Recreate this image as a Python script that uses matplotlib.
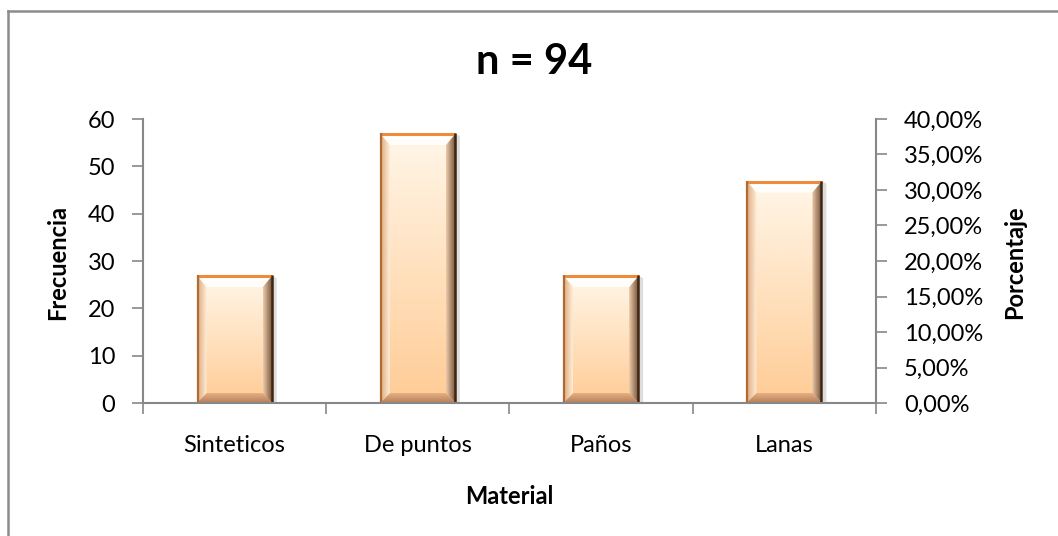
import numpy as np
import matplotlib
matplotlib.use("Agg")
import matplotlib.pyplot as plt
from matplotlib.patches import Polygon
from matplotlib.lines import Line2D
from matplotlib.colors import LinearSegmentedColormap
from matplotlib.ticker import FuncFormatter, MultipleLocator

categories = ["Sinteticos", "De puntos", "Paños", "Lanas"]
frecuencia = [27, 57, 27, 47]
title_text = "n = 94"
xlabel_text = "Material"
ylabel_left = "Frecuencia"
ylabel_right = "Porcentaje"

plt.rcParams['font.family'] = ['Lato', 'DejaVu Sans']

W, H = 1058, 536
fig = plt.figure(figsize=(W / 100, H / 100), dpi=100)
fig.patch.set_facecolor("white")

# outer chart frame (only left and top visible)
frame_col = "#8c8c8c"
fig.add_artist(Line2D([8 / W, 8 / W], [0, 1 - 10.5 / H], transform=fig.transFigure,
                      color=frame_col, lw=1.8))
fig.add_artist(Line2D([8 / W, 1.0], [1 - 10.5 / H, 1 - 10.5 / H], transform=fig.transFigure,
                      color=frame_col, lw=1.8))

ax_l, ax_r, ax_t, ax_b = 143, 876, 119, 403
ax = fig.add_axes([ax_l / W, 1 - ax_b / H, (ax_r - ax_l) / W, (ax_b - ax_t) / H])
x = np.arange(len(categories))
bw = 0.415
bars = ax.bar(x, frecuencia, width=bw, color="#FFD9B0", edgecolor="none", zorder=2)

ax.set_xlim(-0.5, len(categories) - 0.5)
ax.set_ylim(0, 60)
ax.yaxis.set_major_locator(MultipleLocator(10))

axis_col = "#878787"
FS = 17
for s in ["top", "right"]:
    ax.spines[s].set_visible(False)
for s in ["left", "bottom"]:
    ax.spines[s].set_color(axis_col)
    ax.spines[s].set_linewidth(1.5)

ax.set_xticks(x)
ax.set_xticklabels(categories)
ax.set_xticks(np.arange(-0.5, len(categories), 1.0), minor=True)
ax.tick_params(axis="x", which="major", length=0, pad=23, labelsize=FS, colors="black")
ax.tick_params(axis="x", which="minor", length=8, width=1.2, color=axis_col, direction="out")
ax.tick_params(axis="y", which="major", length=8, width=1.2, color=axis_col,
               pad=12, labelsize=FS, labelcolor="black")

ax2 = ax.twinx()
ax2.set_ylim(0, 0.40)
ax2.yaxis.set_major_locator(MultipleLocator(0.05))
ax2.yaxis.set_major_formatter(FuncFormatter(lambda v, p: f"{v*100:.2f}".replace(".", ",") + "%"))
for s in ["top", "left", "bottom"]:
    ax2.spines[s].set_visible(False)
ax2.spines["right"].set_color(axis_col)
ax2.spines["right"].set_linewidth(1.5)
ax2.tick_params(axis="y", length=8, width=1.2, color=axis_col, pad=12,
                labelsize=FS, labelcolor="black")

fig.text(534 / W, 1 - 62 / H, title_text, ha="center", va="center",
         fontsize=30, fontweight="bold")
fig.text(509.5 / W, 1 - 497 / H, xlabel_text, ha="center", va="center",
         fontsize=FS, fontweight="bold")
fig.text(58 / W, 1 - 262 / H, ylabel_left, ha="center", va="center", rotation=90,
         fontsize=FS, fontweight="bold")
fig.text(1015 / W, 1 - 262 / H, ylabel_right, ha="center", va="center", rotation=90,
         fontsize=FS, fontweight="bold")

# bevel styling built from the bar patches
inv = ax.transData.inverted()


def d2p(pts):
    return inv.transform(np.array(pts))


def grad_fill(poly_pts_px, c0, c1, direction, bbox_px, z):
    cmap = LinearSegmentedColormap.from_list("g", [c0, c1])
    g = np.linspace(0, 1, 64)
    if direction == "v":
        img = g[:, None] * np.ones((1, 2))
    else:
        img = g[None, :] * np.ones((2, 1))
    (x0, y0), (x1, y1) = d2p([(bbox_px[0], bbox_px[1]), (bbox_px[2], bbox_px[3])])
    im = ax.imshow(img, cmap=cmap, extent=(x0, x1, y0, y1), origin="lower",
                   aspect="auto", zorder=z, interpolation="bilinear")
    poly = Polygon(d2p(poly_pts_px), closed=True, transform=ax.transData,
                   facecolor="none", edgecolor="none")
    ax.add_patch(poly)
    im.set_clip_path(poly)


for b in bars:
    bb = b.get_window_extent()
    X0, Y0, X1, Y1 = bb.x0, bb.y0, bb.x1, bb.y1
    bv, bt = 10, 12
    # shadow
    sh = Polygon(d2p([(X1, Y0), (X1 + 4, Y0), (X1 + 4, Y1 - 3), (X1, Y1 - 1)]),
                 closed=True, facecolor="#bdbdbd", edgecolor="none", alpha=0.5, zorder=1.5)
    ax.add_patch(sh)
    # face: vertical gradient (bottom peach -> top cream)
    grad_fill([(X0, Y0), (X1, Y0), (X1, Y1), (X0, Y1)], "#FFCC96", "#FFF6E8", "v",
              (X0, Y0, X1, Y1), 2.1)
    # top bevel
    grad_fill([(X0, Y1), (X1, Y1), (X1 - bv, Y1 - bt), (X0 + bv, Y1 - bt)],
              "#FFFDF8", "#FFFFFF", "v", (X0, Y1 - bt, X1, Y1), 2.2)
    # bottom bevel
    grad_fill([(X0, Y0), (X1, Y0), (X1 - bv, Y0 + bv), (X0 + bv, Y0 + bv)],
              "#B27E5C", "#E8B080", "v", (X0, Y0, X1, Y0 + bv), 2.2)
    # left bevel
    grad_fill([(X0, Y0), (X0 + bv, Y0 + bv), (X0 + bv, Y1 - bt), (X0, Y1)],
              "#DDA675", "#FFEEDA", "h", (X0, Y0, X0 + bv, Y1), 2.2)
    # right bevel
    grad_fill([(X1, Y0), (X1 - bv, Y0 + bv), (X1 - bv, Y1 - bt), (X1, Y1)],
              "#EDCBAA", "#6E4C34", "h", (X1 - bv, Y0, X1, Y1), 2.2)
    # outlines
    ax.add_line(Line2D(*d2p([(X0 + 0.5, Y1 - 1), (X1 - 0.5, Y1 - 1)]).T, color="#EE8A3C",
                       lw=2.2, zorder=2.5, solid_capstyle="butt"))
    ax.add_line(Line2D(*d2p([(X0 + 1, Y0), (X0 + 1, Y1)]).T, color="#B06A34",
                       lw=1.6, zorder=2.5, solid_capstyle="butt"))
    ax.add_line(Line2D(*d2p([(X1 - 1, Y0), (X1 - 1, Y1)]).T, color="#3E2612",
                       lw=1.8, zorder=2.5, solid_capstyle="butt"))

ax.set_xlim(-0.5, len(categories) - 0.5)
ax.set_ylim(0, 60)

fig.savefig("out.png", dpi=100, facecolor="white")
